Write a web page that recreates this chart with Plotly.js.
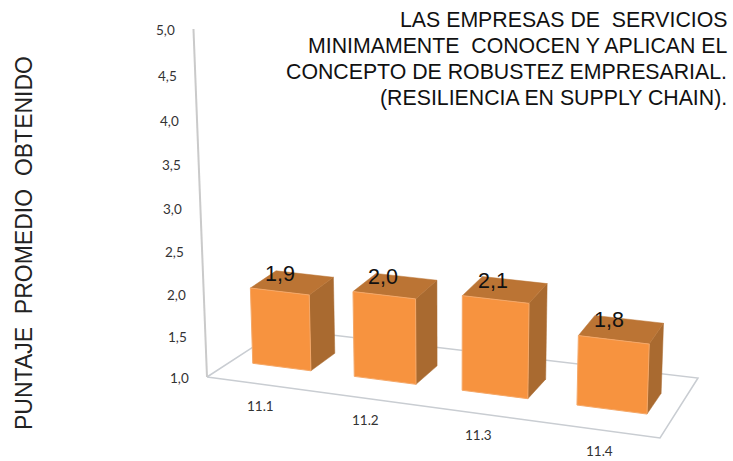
<!DOCTYPE html>
<html>
<head>
<meta charset="utf-8">
<script src="https://cdn.plot.ly/plotly-3.0.1.min.js"></script>
<style>html,body{margin:0;padding:0;background:#fff}#chart{width:733px;height:461px}</style>
</head>
<body>
<div id="chart"></div>
<script>
// Chart content
const categories = ['11.1', '11.2', '11.3', '11.4'];
const scores = [1.9, 2.0, 2.1, 1.8];
const valueTicks = [1.0, 1.5, 2.0, 2.5, 3.0, 3.5, 4.0, 4.5, 5.0];
const titleLines = [
  'LAS EMPRESAS DE\u00A0 SERVICIOS',
  'MINIMAMENTE\u00A0 CONOCEN Y APLICAN EL',
  'CONCEPTO DE ROBUSTEZ EMPRESARIAL.',
  '(RESILIENCIA EN SUPPLY CHAIN).'
];
const valueAxisTitle = 'PUNTAJE\u00A0 PROMEDIO\u00A0 OBTENIDO';

// Floor quadrilateral of the 3D view, on a pixel-scaled plot area
const FL = [207, 377], FR = [660, 438], BR = [698, 378], BL = [281, 329];
const barWidth = 0.58, depthFront = 0.32, depthBack = 0.67;
const colors = { front: '#F7933F', top: '#BB7434', side: '#A96A30', edge: '#F5A868', floor: '#C9CDD2', axis: '#CACACA' };
const font = 'Liberation Sans, Arial, sans-serif';
const smallFont = 'Lato, sans-serif';

// Perspective map from the unit floor square to the plot plane
const H = (() => {
  const sx = FL[0] - FR[0] + BR[0] - BL[0], sy = FL[1] - FR[1] + BR[1] - BL[1];
  const dx1 = FR[0] - BR[0], dx2 = BL[0] - BR[0], dy1 = FR[1] - BR[1], dy2 = BL[1] - BR[1];
  const den = dx1 * dy2 - dx2 * dy1;
  const g = (sx * dy2 - dx2 * sy) / den, h = (dx1 * sy - sx * dy1) / den;
  return { a: FR[0] - FL[0] + g * FR[0], b: BL[0] - FL[0] + h * BL[0], c: FL[0],
           d: FR[1] - FL[1] + g * FR[1], e: BL[1] - FL[1] + h * BL[1], f: FL[1], g, h };
})();

function project(u, d, value) {
  const w = H.g * u + H.h * d + 1;
  const x = (H.a * u + H.b * d + H.c) / w, y = (H.d * u + H.e * d + H.f) / w;
  const t = value - 1;
  const rise = (1 + (x - 300) * 0.00012) * (83 * t + 1.25 * t * t);
  return [x + (x - 450) * 0.00016 * rise, y - rise];
}

function polygon(points, fill, line, width) {
  const xs = points.map(p => p[0]), ys = points.map(p => p[1]);
  return { type: 'scatter', mode: 'lines', x: [...xs, xs[0]], y: [...ys, ys[0]], fill: 'toself',
           fillcolor: fill, line: { color: line, width: width }, hoverinfo: 'skip', showlegend: false };
}
function path(points, color, width) {
  return { type: 'scatter', mode: 'lines', x: points.map(p => p[0]), y: points.map(p => p[1]),
           line: { color: color, width: width }, hoverinfo: 'skip', showlegend: false };
}

const traces = [
  path([project(0, 0, 1), project(1, 0, 1), project(1, 1, 1), project(0, 1, 1), project(0, 0, 1)], colors.floor, 1.5),
  path(valueTicks.map(v => project(0, 0, v)), colors.axis, 2)
];
const annotations = [];
const addText = (x, y, text, size, family, color, anchor, angle) => annotations.push({
  x, y, xref: 'x', yref: 'y', text, showarrow: false, xanchor: anchor || 'center', yanchor: 'middle',
  textangle: angle || 0, font: { size, family, color }
});

scores.forEach((value, i) => {
  const mid = (i + 0.5) / categories.length, half = barWidth / categories.length / 2;
  const u0 = mid - half, u1 = mid + half;
  const fbl = project(u0, depthFront, 1), fbr = project(u1, depthFront, 1), bbr = project(u1, depthBack, 1);
  const ftl = project(u0, depthFront, value), ftr = project(u1, depthFront, value);
  const btr = project(u1, depthBack, value), btl = project(u0, depthBack, value);
  traces.push(polygon([fbr, bbr, btr, ftr], colors.side, colors.side, 0.5));
  traces.push(polygon([ftl, ftr, btr, btl], colors.top, colors.top, 0.5));
  traces.push(polygon([fbl, fbr, ftr, ftl], colors.front, colors.edge, 1));

  const c = project(mid, (depthFront + depthBack) / 2, value);
  addText(c[0] - 12, c[1] - 9, value.toFixed(1).replace('.', ','), 21.5, font, '#111');
  const f = project(mid, 0, 1);
  addText(f[0] + 2.5, f[1] + 22, categories[i], 13.5, smallFont, '#333');
});

valueTicks.forEach(v => {
  const p = project(0, 0, v);
  addText(p[0] - 27.5, p[1] + 1, v.toFixed(1).replace('.', ','), 13.5, smallFont, '#333');
});

[20, 46, 72, 98].forEach((y, i) => addText(729, y, titleLines[i], 21.3, font, '#111', 'right'));
addText(24, 243, valueAxisTitle, 23, font, '#222', 'center', -90);

const hidden = { visible: false, fixedrange: true };
Plotly.newPlot('chart', traces, {
  width: 733, height: 461,
  margin: { l: 0, r: 0, t: 0, b: 0 },
  paper_bgcolor: '#fff', plot_bgcolor: '#fff',
  showlegend: false,
  xaxis: { ...hidden, range: [0, 733] },
  yaxis: { ...hidden, range: [461, 0] },
  annotations
}, { displayModeBar: false, staticPlot: true });
</script>
</body>
</html>
